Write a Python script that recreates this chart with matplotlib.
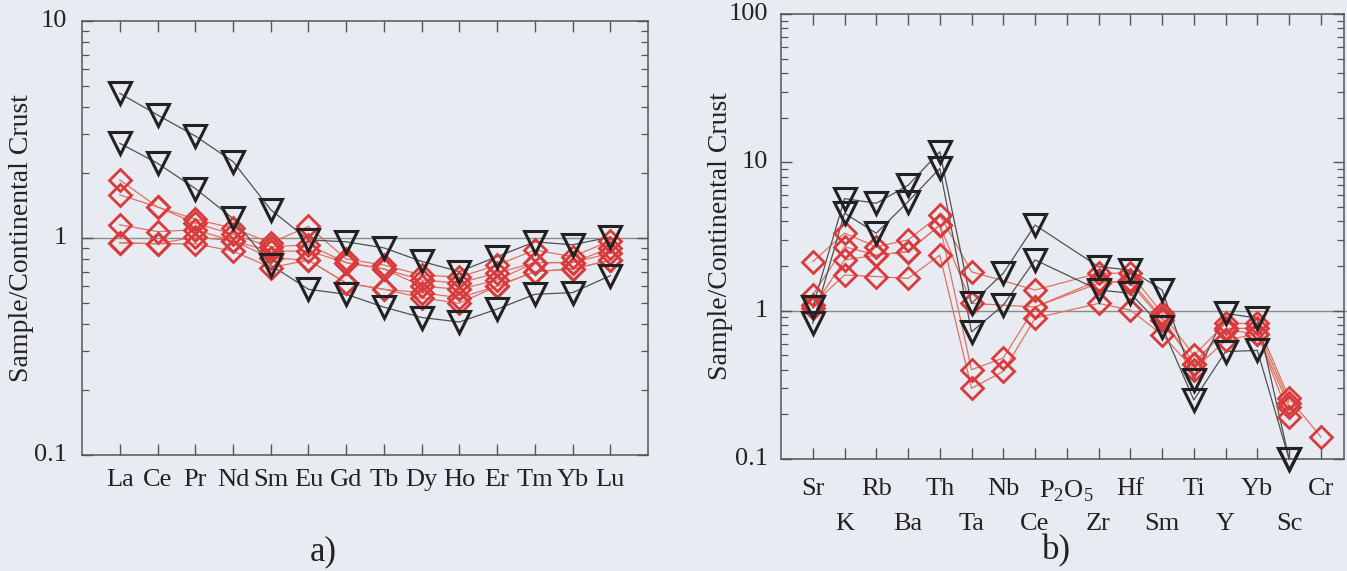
import numpy as np
import matplotlib.pyplot as plt
from matplotlib.ticker import LogLocator, NullFormatter, FixedLocator

plt.rcParams['font.family'] = ['Liberation Serif', 'DejaVu Serif']
plt.rcParams['mathtext.fontset'] = 'custom'
plt.rcParams['mathtext.rm'] = 'Liberation Serif'

# panel a) REE normalised to continental crust
ree = ['La', 'Ce', 'Pr', 'Nd', 'Sm', 'Eu', 'Gd', 'Tb', 'Dy', 'Ho', 'Er', 'Tm', 'Yb', 'Lu']
ree_tri1 = [4.64, 3.69, 2.95, 2.25, 1.35, 0.98, 0.96, 0.90, 0.78, 0.70, 0.82, 0.96, 0.93, 1.01]
ree_tri2 = [2.73, 2.21, 1.69, 1.23, 0.75, 0.58, 0.55, 0.48, 0.43, 0.41, 0.47, 0.55, 0.56, 0.67]
ree_dia1 = [1.85, 1.39, 1.22, 1.11, 0.95, 1.13, 0.80, 0.75, 0.675, 0.66, 0.75, 0.88, 0.82, 0.97]
ree_dia2 = [1.58, 1.39, 1.17, 1.04, 0.91, 0.93, 0.77, 0.72, 0.64, 0.62, 0.69, 0.77, 0.77, 0.90]
ree_dia3 = [1.15, 1.07, 1.09, 0.97, 0.87, 0.87, 0.77, 0.72, 0.60, 0.58, 0.64, 0.77, 0.77, 0.85]
ree_dia4 = [0.95, 0.94, 1.01, 0.97, 0.81, 0.79, 0.62, 0.58, 0.56, 0.53, 0.60, 0.70, 0.72, 0.79]
ree_dia5 = [0.95, 0.94, 0.94, 0.87, 0.73, 0.79, 0.62, 0.58, 0.53, 0.50, 0.60, 0.70, 0.72, 0.79]

# panel b) spider diagram
spider = ['Sr', 'K', 'Rb', 'Ba', 'Th', 'Ta', 'Nb', 'Ce', r'P$_\mathrm{2}$O$_\mathrm{5}$', 'Zr',
          'Hf', 'Sm', 'Ti', 'Y', 'Yb', 'Sc', 'Cr']
nan = np.nan
sp_tri1 = [1.06, 5.7, 5.3, 7.0, 11.8, 1.12, 1.79, 3.78, nan, 1.98, 1.88, 1.38, 0.34, 0.96, 0.89, 0.10, nan]
sp_tri2 = [0.82, 4.54, 3.33, 5.43, 9.1, 0.72, 1.09, 2.2, nan, 1.38, 1.31, 0.78, 0.25, 0.53, 0.54, 0.10, nan]
sp_dia1 = [2.14, 3.33, 2.70, 3.00, 4.42, 1.83, nan, 1.38, nan, 1.79, 1.79, 0.96, 0.50, 0.82, 0.82, 0.257, 0.141]
sp_dia2 = [1.28, 2.70, 2.37, 2.50, 3.78, 1.12, nan, 1.06, nan, 1.53, 1.60, 0.90, 0.44, 0.76, 0.76, 0.240, nan]
sp_dia3 = [1.04, 2.20, 2.37, 2.50, 3.78, 0.40, 0.48, 1.06, nan, 1.60, 1.53, 0.87, 0.44, 0.74, 0.70, 0.225, nan]
sp_dia4 = [1.10, 1.74, 1.70, 1.65, 2.37, 0.30, 0.39, 0.89, nan, 1.12, 1.01, 0.69, 0.40, 0.63, 0.70, 0.193, nan]

bg = '#e8ecf2'
red = '#d93a3c'
red_line = '#e2705f'
blk = '#222222'
blk_line = '#505050'
txt = '#222222'


def draw_series(ax, vals, kind):
    v = np.array(vals, dtype=float)
    x = np.arange(1, len(v) + 1)
    ok = ~np.isnan(v)
    if kind == 'tri':
        ax.plot(x[ok], v[ok], color=blk_line, lw=0.9, zorder=2, clip_on=False)
        ax.plot(x[ok], v[ok], ls='none', marker='v', ms=15.5, mfc='none', mec=blk,
                mew=2.2, zorder=4, clip_on=False)
    else:
        ax.plot(x[ok], v[ok], color=red_line, lw=0.9, zorder=2, clip_on=False)
        ax.plot(x[ok], v[ok], ls='none', marker='D', ms=11.5, mfc='none', mec=red,
                mew=2.0, zorder=3, clip_on=False)


def style_axes(ax, n, ymin, ymax):
    ax.set_facecolor(bg)
    ax.set_yscale('log')
    ax.set_ylim(ymin, ymax)
    ax.yaxis.set_major_locator(LogLocator(base=10, numticks=10))
    ax.yaxis.set_minor_locator(LogLocator(base=10, subs=np.arange(2, 10), numticks=10))
    ax.yaxis.set_minor_formatter(NullFormatter())
    ax.set_yticklabels([])
    ax.xaxis.set_major_locator(FixedLocator(np.arange(1, n + 1)))
    ax.tick_params(axis='both', which='major', direction='in', length=8, width=1.0,
                   color='#555555', top=True, right=True, labelsize=19)
    ax.tick_params(axis='y', which='minor', direction='in', length=5, width=0.9,
                   color='#555555', right=True)
    for s in ax.spines.values():
        s.set_color('#555555')
        s.set_linewidth(1.1)
    ax.axhline(1, color='#8a8a8a', lw=1.0, zorder=1)
    ax.set_ylabel('Sample/Continental Crust', fontsize=20, color=txt)
    ax.yaxis.set_label_coords(-0.085, 0.5)


fig = plt.figure(figsize=(13.47, 5.71), dpi=100, facecolor=bg)

# ---- a)
axa = fig.add_axes([0.0609, 0.2032, 0.4202, 0.7601])
style_axes(axa, len(ree), 0.1, 10)
axa.set_xlim(0, 15)
axa.set_xticklabels(ree, color=txt)
axa.tick_params(axis='x', pad=10)
for val, lab in [(0.1, '0.1'), (1, '1'), (10, '10')]:
    axa.text(-0.4, val, lab, ha='right', va='center', fontsize=19, color=txt)
for s in [ree_dia1, ree_dia2, ree_dia3, ree_dia4, ree_dia5]:
    draw_series(axa, s, 'dia')
for s in [ree_tri1, ree_tri2]:
    draw_series(axa, s, 'tri')
fig.text(0.240, 0.033, 'a)', fontsize=25, color=txt, ha='center', va='center')

# ---- b)
axb = fig.add_axes([0.5798, 0.1961, 0.418, 0.7793])
style_axes(axb, len(spider), 0.1, 100)
axb.set_xlim(0, 17.73)
axb.set_xticklabels(spider, color=txt)
for i, t in enumerate(axb.xaxis.get_major_ticks()):
    t.set_pad(14 if i % 2 == 0 else 39)
axb.axhline(1, xmin=1.0, xmax=1.02, color='#8a8a8a', lw=1.0, clip_on=False)
for val, lab in [(0.1, '0.1'), (1, '1'), (10, '10'), (100, '100')]:
    axb.text(-0.4, val, lab, ha='right', va='center', fontsize=19, color=txt)
for s in [sp_dia1, sp_dia2, sp_dia3, sp_dia4]:
    draw_series(axb, s, 'dia')
for s in [sp_tri1, sp_tri2]:
    draw_series(axb, s, 'tri')
fig.text(0.784, 0.035, 'b)', fontsize=25, color=txt, ha='center', va='center')

fig.savefig('out.png', dpi=100, facecolor=bg)
